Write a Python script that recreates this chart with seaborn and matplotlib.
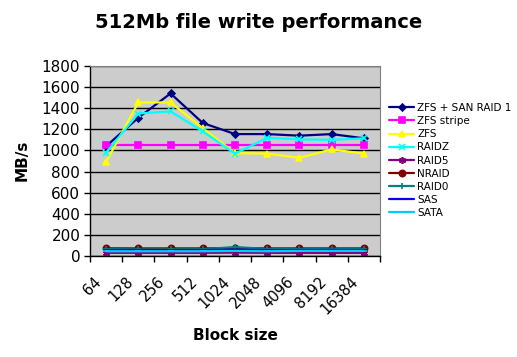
import numpy as np
import pandas as pd
import seaborn as sns
import matplotlib.pyplot as plt
import matplotlib.transforms as mtransforms
import matplotlib.patheffects as pe

# block sizes (categories on the x axis)
block_sizes = ['64', '128', '256', '512', '1024', '2048', '4096', '8192', '16384']

# MB/s per configuration
zfs_san_raid1 = [1040, 1310, 1540, 1260, 1155, 1155, 1140, 1155, 1115]
zfs_stripe = [1050, 1050, 1050, 1050, 1050, 1050, 1050, 1050, 1050]
zfs = [890, 1455, 1455, 1210, 975, 970, 930, 1010, 970]
raidz = [980, 1350, 1370, 1180, 970, 1120, 1105, 1100, 1115]
raid5 = [30, 30, 30, 30, 32, 30, 30, 30, 30]
nraid = [73, 72, 72, 72, 75, 72, 72, 72, 72]
raid0 = [66, 62, 62, 64, 85, 66, 66, 68, 66]
sas = [57, 57, 55, 57, 60, 57, 57, 58, 57]
sata = [45, 45, 45, 45, 48, 45, 48, 48, 48]

series_names = ['ZFS + SAN RAID 1', 'ZFS stripe', 'ZFS', 'RAIDZ', 'RAID5',
                'NRAID', 'RAID0', 'SAS', 'SATA']
series_values = [zfs_san_raid1, zfs_stripe, zfs, raidz, raid5, nraid, raid0, sas, sata]
colors = ['#000080', '#ff00ff', '#ffff00', '#00ffff', '#800080',
          '#800000', '#008080', '#0000ff', '#00ccff']
markers = ['D', 's', '^', 'x', (6, 2, 0), 'o', '+', '_', '_']
msizes = [3.5, 4.5, 5, 4, 5, 4.5, 5, 5, 5]

rows = []
for name, vals in zip(series_names, series_values):
    for i, v in enumerate(vals):
        rows.append({'config': name, 'pos': i, 'mbs': v})
df = pd.DataFrame(rows)

sns.set_style('white')
plt.rcParams['font.family'] = ['DejaVu Sans']
plt.rcParams['text.color'] = 'black'
plt.rcParams['xtick.color'] = 'black'
plt.rcParams['ytick.color'] = 'black'
plt.rcParams['axes.labelcolor'] = 'black'

fig = plt.figure(figsize=(5.17, 3.57), dpi=100)
ax = fig.add_axes([90 / 517, 1 - 256 / 357, 290 / 517, 190 / 357])
ax.set_facecolor('#cccccc')

shadow = [pe.SimpleLineShadow(offset=(1.2, -1.2), shadow_color='#888888', alpha=0.6), pe.Normal()]
for name, col, mk, ms in zip(series_names, colors, markers, msizes):
    sub = df[df['config'] == name]
    sns.lineplot(data=sub, x='pos', y='mbs', ax=ax, color=col, marker=mk,
                 markersize=ms, markeredgecolor=col, markeredgewidth=1.2,
                 linewidth=1.6, label=name, path_effects=shadow)

ax.set_xlim(-0.5, len(block_sizes) - 0.5)
ax.set_ylim(0, 1800)
ax.set_yticks(np.arange(0, 1801, 200))
ax.yaxis.grid(True, color='black', linewidth=1)
ax.set_axisbelow(True)

# tick marks sit on category boundaries, labels at the centers
ax.set_xticks(np.arange(-0.5, len(block_sizes), 1))
ax.set_xticklabels([])
ax.set_xticks(np.arange(len(block_sizes)), minor=True)
ax.set_xticklabels(block_sizes, minor=True, rotation=45, ha='right', va='top',
                   rotation_mode='anchor', fontsize=10.5)
ax.tick_params(axis='x', which='major', direction='out', length=4, width=1, color='black', bottom=True)
ax.tick_params(axis='x', which='minor', length=0, pad=13)
ax.tick_params(axis='y', direction='out', length=4, width=1, color='black', left=True, labelsize=11, pad=3)
shift = mtransforms.ScaledTranslation(-13 / 100, 0, fig.dpi_scale_trans)
for lab in ax.get_xticklabels(minor=True):
    lab.set_transform(lab.get_transform() + shift)

for side in ['left', 'bottom']:
    ax.spines[side].set_color('black')
    ax.spines[side].set_linewidth(1)
for side in ['top', 'right']:
    ax.spines[side].set_color('#808080')

ax.set_xlabel('')
ax.set_ylabel('')
fig.text(22 / 517, 1 - 160 / 357, 'MB/s', rotation=90, ha='center', va='center',
         fontsize=11, fontweight='bold')
fig.text(235 / 517, 1 - 336 / 357, 'Block size', ha='center', va='center',
         fontsize=11, fontweight='bold')
fig.text(259 / 517, 1 - 23 / 357, '512Mb file write performance', ha='center', va='center',
         fontsize=14, fontweight='bold')

handles, labels = ax.get_legend_handles_labels()
ax.legend_.remove()
for h in handles:
    h.set_path_effects([])
fig.legend(handles, labels, loc='upper left', bbox_to_anchor=(389 / 517, 1 - 103 / 357),
           frameon=False, fontsize=7.5, handlelength=2.4, handletextpad=0.3,
           labelspacing=0.3, borderaxespad=0, borderpad=0)

fig.savefig('out.png', dpi=100)
